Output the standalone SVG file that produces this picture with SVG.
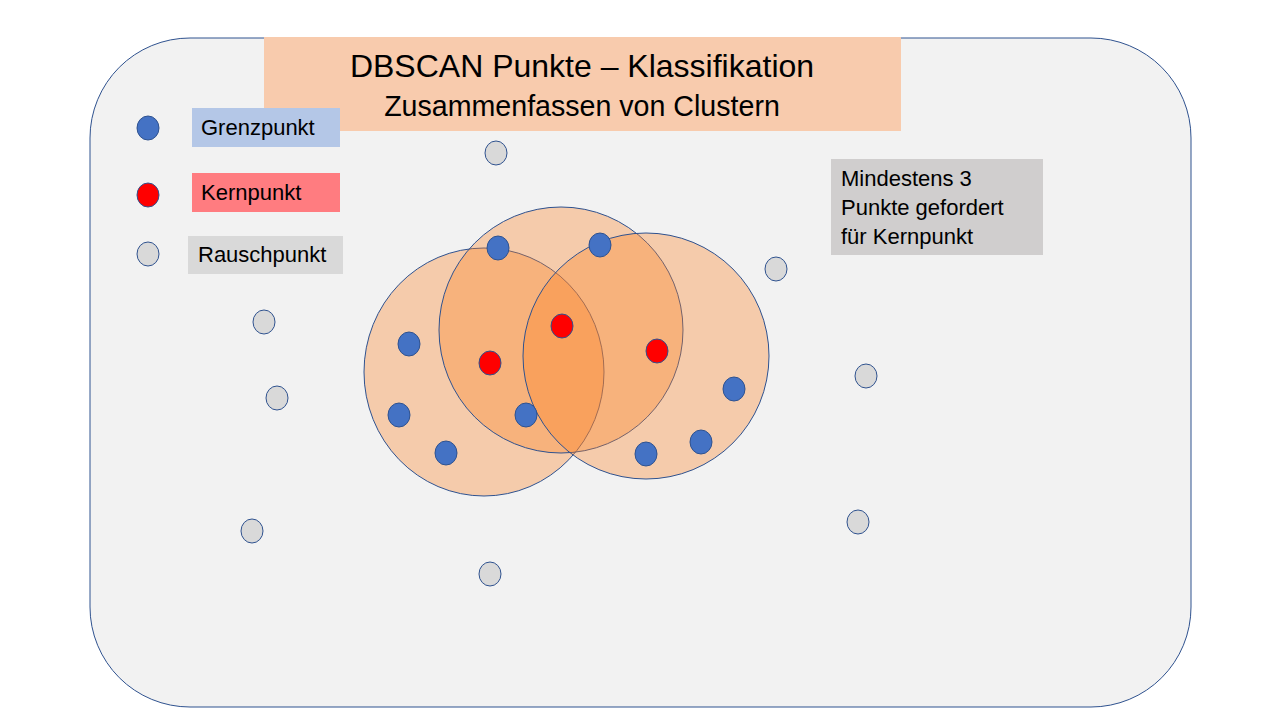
<svg xmlns="http://www.w3.org/2000/svg" width="1280" height="720" viewBox="0 0 1280 720">
<style>
text{font-family:"Liberation Sans",Arial,sans-serif;fill:#000}
.zone{fill:rgb(251,130,36);fill-opacity:0.34;stroke:#2F528F;stroke-width:1}
.b{fill:#4472C4;stroke:#2F528F;stroke-width:1}
.r{fill:#FF0000;stroke:#2F528F;stroke-width:1}
.g{fill:#D9D9D9;stroke:#2F528F;stroke-width:1}
.lbl{font-size:22px}
.note{font-size:22px}
</style>
<rect width="1280" height="720" fill="#FFFFFF"/>
<g id="frame"><rect x="90" y="38" width="1101" height="669" rx="100" ry="100" fill="#F2F2F2" stroke="#2F528F" stroke-width="1"/></g>
<g id="title">
<rect x="264" y="37" width="637" height="94" fill="#F8CBAD"/>
<text x="582" y="77" font-size="32" text-anchor="middle">DBSCAN Punkte – Klassifikation</text>
<text x="582" y="116" font-size="28.6" text-anchor="middle">Zusammenfassen von Clustern</text>
</g>
<g id="legend-grenz"><ellipse class="b" cx="148" cy="128" rx="11" ry="12"/><rect x="192" y="108" width="148" height="39" fill="#B4C7E7"/><text class="lbl" x="201" y="135">Grenzpunkt</text></g>
<g id="legend-kern"><ellipse class="r" cx="148" cy="195" rx="11" ry="12"/><rect x="192" y="173" width="148" height="39" fill="#FF7C80"/><text class="lbl" x="201" y="200">Kernpunkt</text></g>
<g id="legend-rausch"><ellipse class="g" cx="148" cy="254" rx="11" ry="12"/><rect x="188" y="236" width="155" height="38" fill="#D9D9D9"/><text class="lbl" x="198" y="262">Rauschpunkt</text></g>
<g id="note"><rect x="831" y="159" width="212" height="96" fill="#D0CECE"/>
<text class="note" x="841" y="186">Mindestens 3</text>
<text class="note" x="841" y="215">Punkte gefordert</text>
<text class="note" x="841" y="244">für Kernpunkt</text></g>
<g id="zones">
<ellipse class="zone" cx="484" cy="372" rx="120" ry="124"/>
<ellipse class="zone" cx="561" cy="330" rx="122" ry="123"/>
<ellipse class="zone" cx="646" cy="356" rx="123" ry="123"/>
</g>
<g id="points">
<ellipse class="g" cx="496" cy="153" rx="11" ry="12"/>
<ellipse class="g" cx="776" cy="269" rx="11" ry="12"/>
<ellipse class="g" cx="264" cy="322" rx="11" ry="12"/>
<ellipse class="g" cx="277" cy="398" rx="11" ry="12"/>
<ellipse class="g" cx="866" cy="376" rx="11" ry="12"/>
<ellipse class="g" cx="252" cy="531" rx="11" ry="12"/>
<ellipse class="g" cx="858" cy="522" rx="11" ry="12"/>
<ellipse class="g" cx="490" cy="574" rx="11" ry="12"/>
<ellipse class="b" cx="498" cy="248" rx="11" ry="12"/>
<ellipse class="b" cx="600" cy="245" rx="11" ry="12"/>
<ellipse class="b" cx="409" cy="344" rx="11" ry="12"/>
<ellipse class="b" cx="399" cy="415" rx="11" ry="12"/>
<ellipse class="b" cx="446" cy="453" rx="11" ry="12"/>
<ellipse class="b" cx="526" cy="415" rx="11" ry="12"/>
<ellipse class="b" cx="734" cy="389" rx="11" ry="12"/>
<ellipse class="b" cx="701" cy="442" rx="11" ry="12"/>
<ellipse class="b" cx="646" cy="454" rx="11" ry="12"/>
<ellipse class="r" cx="562" cy="326" rx="11" ry="12"/>
<ellipse class="r" cx="490" cy="363" rx="11" ry="12"/>
<ellipse class="r" cx="657" cy="351" rx="11" ry="12"/>
</g>
<g id="connectors"/>
</svg>
